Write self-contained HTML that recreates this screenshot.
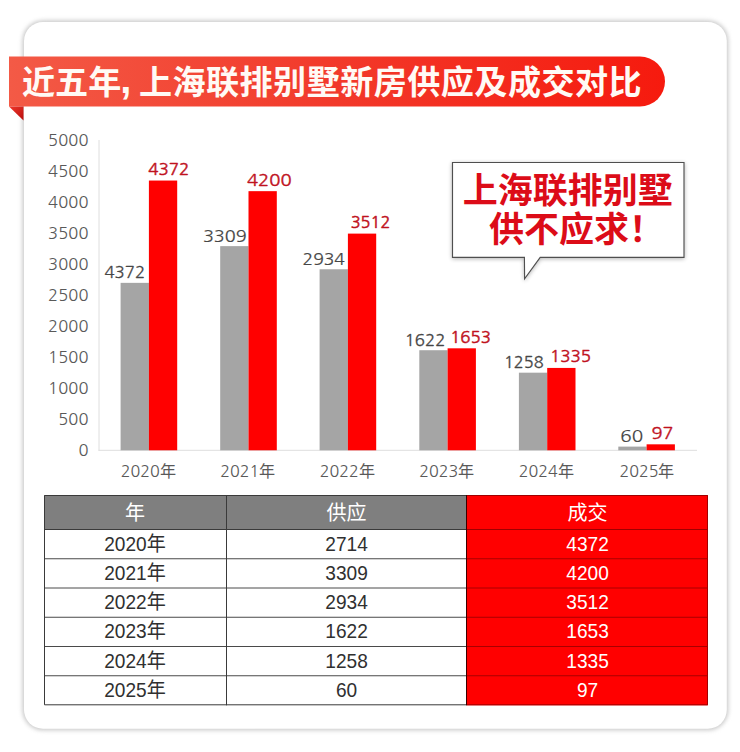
<!DOCTYPE html>
<html lang="zh-CN">
<head>
<meta charset="utf-8">
<title>近五年, 上海联排别墅新房供应及成交对比</title>
<style>
html,body{margin:0;padding:0;background:#fff;}
body{width:740px;height:752px;overflow:hidden;position:relative;}
svg{position:absolute;left:0;top:0;display:block;}
.cjk{font-family:"Liberation Sans","Noto Sans CJK SC",sans-serif;}
.zh{font-family:"Noto Sans CJK SC","Liberation Sans",sans-serif;}
.num{font-family:"Liberation Sans","Noto Sans CJK SC",sans-serif;}
.lab{font-family:"NanumGothic","Liberation Sans",sans-serif;}
</style>
</head>
<body>
<svg width="740" height="752" viewBox="0 0 740 752">
  <defs>
    <linearGradient id="bannerG" gradientUnits="userSpaceOnUse" x1="9" y1="0" x2="665" y2="0">
      <stop offset="0" stop-color="#f35a46"/><stop offset="0.5" stop-color="#f2392a"/><stop offset="1" stop-color="#f61a0e"/>
    </linearGradient>
    <linearGradient id="foldG" x1="0" y1="0" x2="1" y2="1">
      <stop offset="0" stop-color="#f0392c"/>
      <stop offset="1" stop-color="#b80d0d"/>
    </linearGradient>
    <filter id="bshadow" x="-10%" y="-10%" width="120%" height="130%">
      <feGaussianBlur in="SourceAlpha" stdDeviation="2.2"/>
      <feOffset dx="0.3" dy="0.6" result="b"/>
      <feComponentTransfer><feFuncA type="linear" slope="0.3"/></feComponentTransfer>
      <feMerge><feMergeNode/><feMergeNode in="SourceGraphic"/></feMerge>
    </filter>
    <filter id="cshadow" x="-5%" y="-5%" width="110%" height="110%" color-interpolation-filters="sRGB">
      <feGaussianBlur stdDeviation="2.2"/>
    </filter>
  </defs>

  <!-- card -->
  <rect x="22.5" y="20.5" width="705.8" height="709.7" rx="20.5" fill="#c8c8c8" filter="url(#cshadow)"/>
  <rect x="24" y="22" width="702.8" height="706.7" rx="19" fill="#fff"/>

  <!-- banner -->
  <path d="M9 56.5 H640 A25 25 0 0 1 640 106.5 H9 Z" fill="url(#bannerG)"/>
  <polygon points="9,106.5 23.5,106.5 23.5,120.5" fill="url(#foldG)"/>
  <text x="22" y="94" class="zh" font-size="33.1" font-weight="bold" fill="#fffaf5" letter-spacing="0">近五年<tspan font-family="Liberation Sans" font-size="40" font-weight="900" dx="-1" dy="-1.5">,</tspan><tspan dx="7.6" dy="1.5" letter-spacing="0.46">上海联排别墅新房供应及成交对比</tspan></text>

  <!-- y axis labels -->
  <g class="lab" font-size="16.5" fill="#595959" text-anchor="end" letter-spacing="0.15"><text x="88.60" y="455.80">0</text><text x="88.60" y="424.80">500</text><text x="88.60" y="393.80">1000</text><text x="88.60" y="362.80">1500</text><text x="88.60" y="331.80">2000</text><text x="88.60" y="300.80">2500</text><text x="88.60" y="269.80">3000</text><text x="88.60" y="238.80">3500</text><text x="88.60" y="207.80">4000</text><text x="88.60" y="176.80">4500</text><text x="88.60" y="145.80">5000</text></g>
  <line x1="99" y1="140" x2="99" y2="450.8" stroke="#dedede" stroke-width="1"/>
  <line x1="98.5" y1="450.3" x2="697" y2="450.3" stroke="#dedede" stroke-width="1"/>

  <!-- bars -->
  <g fill="#a5a5a5"><rect x="120.60" y="282.85" width="28.30" height="167.45"/><rect x="220.20" y="246.13" width="28.30" height="204.17"/><rect x="319.60" y="269.27" width="28.30" height="181.03"/><rect x="419.30" y="350.22" width="28.30" height="100.08"/><rect x="518.90" y="372.68" width="28.30" height="77.62"/><rect x="618.30" y="446.60" width="28.30" height="3.70"/></g>
  <g fill="#ff0000"><rect x="148.90" y="180.55" width="28.30" height="269.75"/><rect x="248.50" y="191.16" width="28.30" height="259.14"/><rect x="347.90" y="233.61" width="28.30" height="216.69"/><rect x="447.60" y="348.31" width="28.30" height="101.99"/><rect x="547.20" y="367.93" width="28.30" height="82.37"/><rect x="646.60" y="444.32" width="28.30" height="5.98"/></g>

  <!-- data labels -->
  <g class="lab" font-size="16.6" fill="#464646" stroke="#464646" stroke-width="0.3" text-anchor="middle"><text transform="translate(124.75 277.50) scale(1.013 1)" stroke-width="0.28">4372</text><text transform="translate(224.75 241.50) scale(1.087 1)" stroke-width="0.20">3309</text><text transform="translate(323.75 264.50) scale(1.055 1)" stroke-width="0.23">2934</text><text transform="translate(425.00 346.00) scale(1.011 1)" stroke-width="0.29">1622</text><text transform="translate(523.75 368.00) scale(0.986 1)" stroke-width="0.32">1258</text><text transform="translate(631.75 442.00) scale(1.139 1)" stroke-width="0.13">60</text></g>
  <g class="lab" font-size="16.6" fill="#c0121e" stroke="#c0121e" stroke-width="0.3" text-anchor="middle"><text transform="translate(168.75 175.00) scale(1.024 1)" stroke-width="0.47">4372</text><text transform="translate(269.25 185.50) scale(1.113 1)" stroke-width="0.36">4200</text><text transform="translate(370.50 228.00) scale(0.984 1)" stroke-width="0.52">3512</text><text transform="translate(470.50 343.00) scale(1.011 1)" stroke-width="0.49">1653</text><text transform="translate(570.50 362.00) scale(1.022 1)" stroke-width="0.47">1335</text><text transform="translate(662.50 439.00) scale(1.094 1)" stroke-width="0.39">97</text></g>

  <!-- category labels -->
  <g class="lab" font-size="16.1" fill="#595959" text-anchor="middle"><text x="148.30" y="477.20">2020年</text><text x="247.80" y="477.20">2021年</text><text x="347.30" y="477.20">2022年</text><text x="446.80" y="477.20">2023年</text><text x="546.30" y="477.20">2024年</text><text x="647.00" y="477.20">2025年</text></g>

  <!-- speech bubble -->
  <g filter="url(#bshadow)">
    <path d="M452.5 162.5 H684 V257.3 H540.2 L524.6 278.8 L524.4 257.3 H452.5 Z" fill="#fff" stroke="#505050" stroke-width="1.15" stroke-linejoin="miter"/>
  </g>
  <g class="zh" font-size="35" font-weight="bold" fill="#dc0c18" text-anchor="middle">
    <text x="567.8" y="203.4" letter-spacing="0">上海联排别墅</text>
    <text x="576.5" y="242.2" letter-spacing="0">供不应求！</text>
  </g>

  <!-- table -->
  <rect x="44" y="495" width="423" height="34" fill="#7f7f7f"/>
  <rect x="467" y="495" width="241" height="210.29999999999995" fill="#ff0000"/>
  <g stroke="#4a4a4a" stroke-width="1"><line x1="44" y1="558.75" x2="467" y2="558.75"/><line x1="44" y1="588.0" x2="467" y2="588.0"/><line x1="44" y1="617.25" x2="467" y2="617.25"/><line x1="44" y1="646.5" x2="467" y2="646.5"/><line x1="44" y1="675.75" x2="467" y2="675.75"/></g>
  <g stroke="#a80000" stroke-width="1"><line x1="467" y1="558.75" x2="708" y2="558.75"/><line x1="467" y1="588.0" x2="708" y2="588.0"/><line x1="467" y1="617.25" x2="708" y2="617.25"/><line x1="467" y1="646.5" x2="708" y2="646.5"/><line x1="467" y1="675.75" x2="708" y2="675.75"/></g>
  <g stroke="#3a3a3a" stroke-width="1" fill="none">
    <path d="M467 495.5 H44.5 V704.8 H467"/>
    <line x1="44" y1="529.5" x2="467" y2="529.5"/>
    <line x1="226.5" y1="495" x2="226.5" y2="705.3"/>
  </g>
  <g stroke="#a00000" stroke-width="1" fill="none">
    <path d="M467 495.5 H707.5 V704.8 H467"/>
    <line x1="467" y1="529.5" x2="708" y2="529.5"/>
  </g>
  <line x1="466.5" y1="495" x2="466.5" y2="705.3" stroke="#3a0000" stroke-width="1"/>
  <g class="cjk" font-size="20" text-anchor="middle" fill="#fff">
    <text x="135.00" y="520.00">年</text><text x="346.50" y="520.00">供应</text><text x="587.50" y="520.00">成交</text>
  </g>
  <g class="cjk" font-size="20" text-anchor="middle">
    <g fill="#303030"><text transform="translate(135.00 550.50) scale(0.955 1)">2020年</text><text transform="translate(135.00 579.75) scale(0.955 1)">2021年</text><text transform="translate(135.00 609.00) scale(0.955 1)">2022年</text><text transform="translate(135.00 638.25) scale(0.955 1)">2023年</text><text transform="translate(135.00 667.50) scale(0.955 1)">2024年</text><text transform="translate(135.00 696.75) scale(0.955 1)">2025年</text><text transform="translate(346.50 550.50) scale(0.955 1)">2714</text><text transform="translate(346.50 579.75) scale(0.955 1)">3309</text><text transform="translate(346.50 609.00) scale(0.955 1)">2934</text><text transform="translate(346.50 638.25) scale(0.955 1)">1622</text><text transform="translate(346.50 667.50) scale(0.955 1)">1258</text><text transform="translate(346.50 696.75) scale(0.955 1)">60</text></g>
    <g fill="#fff"><text transform="translate(587.50 550.50) scale(0.955 1)">4372</text><text transform="translate(587.50 579.75) scale(0.955 1)">4200</text><text transform="translate(587.50 609.00) scale(0.955 1)">3512</text><text transform="translate(587.50 638.25) scale(0.955 1)">1653</text><text transform="translate(587.50 667.50) scale(0.955 1)">1335</text><text transform="translate(587.50 696.75) scale(0.955 1)">97</text></g>
  </g>
</svg>
</body>
</html>
